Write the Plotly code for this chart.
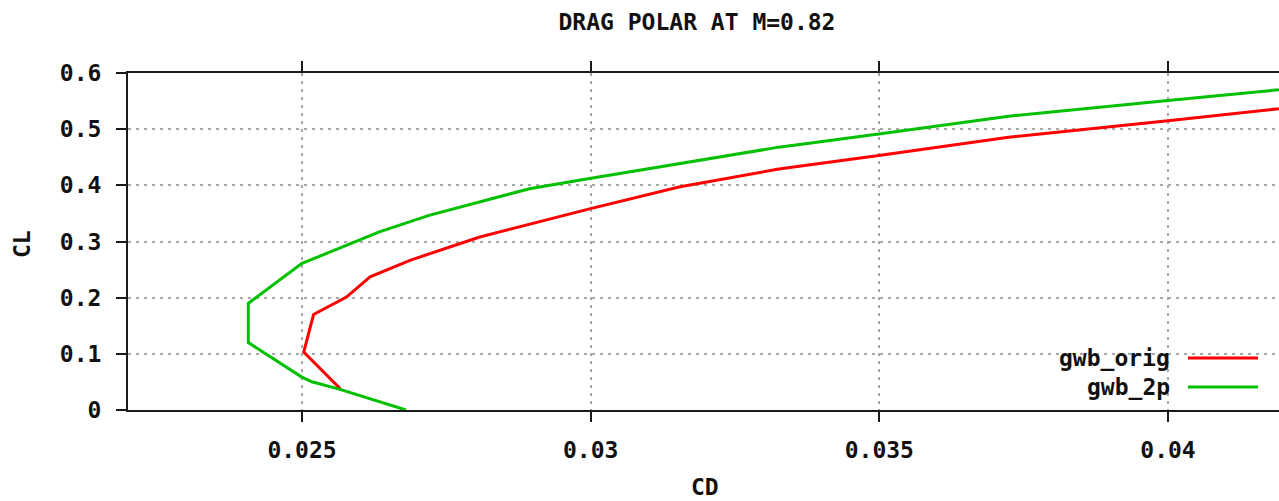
import plotly.graph_objects as go

# Drag polar data at M=0.82
cd_orig = [0.02566, 0.02503, 0.02520, 0.02577, 0.02618, 0.02687, 0.02808,
           0.02998, 0.03153, 0.03326, 0.03499, 0.03724, 0.04000, 0.04185,
           0.04250]
cl_orig = [0.038, 0.103, 0.170, 0.201, 0.237, 0.2665, 0.308,
           0.358, 0.397, 0.429, 0.453, 0.4856, 0.515, 0.536,
           0.543]

cd_2p = [0.02680, 0.02566, 0.02517, 0.02499, 0.02407, 0.02407, 0.02500,
         0.02554, 0.02634, 0.02720, 0.02808, 0.02894, 0.02998, 0.03153,
         0.03326, 0.03499, 0.03724, 0.04000, 0.04185, 0.04250]
cl_2p = [0.000, 0.0367, 0.0503, 0.059, 0.120, 0.190, 0.261,
         0.284, 0.317, 0.3465, 0.370, 0.394, 0.412, 0.438,
         0.468, 0.4915, 0.523, 0.551, 0.570, 0.576]

x_ticks = [0.025, 0.03, 0.035, 0.04]
y_ticks = [0, 0.1, 0.2, 0.3, 0.4, 0.5, 0.6]

series = [("gwb_orig", cd_orig, cl_orig, "#ff0000"),
          ("gwb_2p", cd_2p, cl_2p, "#00c000")]

W, H = 1279, 501
ML, MR, MT, MB = 128, 0, 73, 91
PW, PH = W - ML - MR, H - MT - MB

FONT = dict(family="DejaVu Sans Mono", size=23, color="#111111", weight="bold")


def px(x):
    return (x - ML) / PW


def py(y):
    return (H - MB - y) / PH


fig = go.Figure()
for name, xs, ys, col in series:
    fig.add_trace(go.Scatter(x=xs, y=ys, mode="lines", name=name,
                             line=dict(color=col, width=3), showlegend=False))

axis_common = dict(
    showline=True, linecolor="#1a1a1a", linewidth=2,
    ticks="outside", ticklen=10, tickwidth=2, tickcolor="#1a1a1a",
    showgrid=True, gridcolor="#a8a8a8", gridwidth=1.5, griddash="3px,5px",
    zeroline=False, tickfont=FONT,
)

fig.update_layout(
    width=W, height=H,
    margin=dict(l=ML, r=MR, t=MT, b=MB, pad=0),
    paper_bgcolor="white", plot_bgcolor="white",
    title=dict(text="DRAG POLAR AT M=0.82", font=FONT,
               x=697 / W, xanchor="center", y=1 - 22 / H, yanchor="middle"),
    xaxis=dict(range=[0.021986, 0.041923], tickvals=x_ticks,
               mirror="ticks", ticklabelstandoff=8, **axis_common),
    yaxis=dict(range=[0, 0.6], tickvals=y_ticks,
               ticklabelstandoff=10, **axis_common),
)

# axis titles
fig.add_annotation(text="CD", xref="paper", yref="paper", x=px(705), y=py(H),
                   xanchor="center", yanchor="bottom", showarrow=False,
                   borderpad=0, font=FONT)
fig.add_annotation(text="CL", xref="paper", yref="paper", x=px(22), y=py(244),
                   xanchor="center", yanchor="middle", showarrow=False,
                   textangle=-90, font=FONT)

# key: label on the left, line sample on the right
for i, (name, xs, ys, col) in enumerate(series):
    yk = py(358 + 29 * i)
    fig.add_annotation(text=name, xref="paper", yref="paper", x=px(1172), y=yk,
                       xanchor="right", yanchor="middle", showarrow=False, font=FONT)
    fig.add_shape(type="line", xref="paper", yref="paper",
                  x0=px(1188), x1=px(1258), y0=yk, y1=yk,
                  line=dict(color=col, width=3))

fig.write_html("out.html")
